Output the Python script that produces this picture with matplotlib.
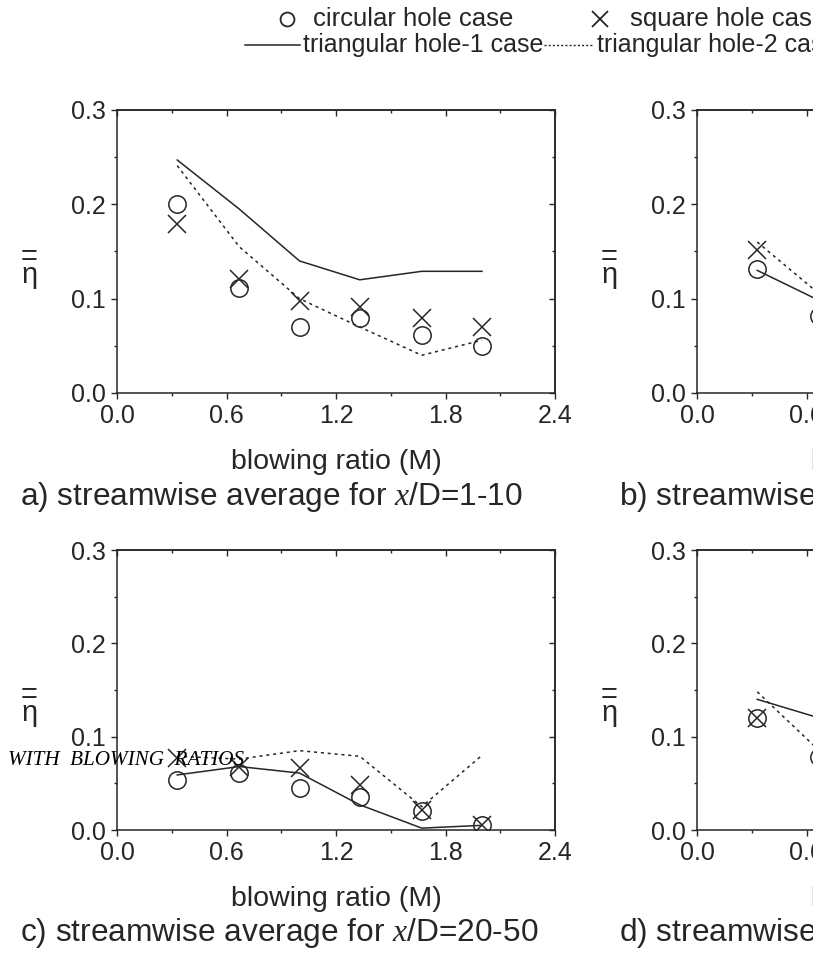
import numpy as np
import matplotlib
matplotlib.use('Agg')
import matplotlib.pyplot as plt
from matplotlib.lines import Line2D
from matplotlib.ticker import MultipleLocator, FormatStrFormatter, NullFormatter

plt.rcParams['font.family'] = ['Liberation Sans', 'DejaVu Sans']
plt.rcParams['mathtext.fontset'] = 'custom'
plt.rcParams['mathtext.rm'] = 'Liberation Sans'
plt.rcParams['mathtext.it'] = 'Liberation Serif:italic'

W, H = 813, 955
ink = '#262626'

# blowing ratios M
blowing = [0.33, 0.67, 1.0, 1.33, 1.67, 2.0]

# a) streamwise average for x/D=1-10
a_circular = [0.200, 0.111, 0.070, 0.080, 0.062, 0.050]
a_square = [0.179, 0.121, 0.098, 0.091, 0.080, 0.070]
a_tri1 = [0.247, 0.195, 0.140, 0.120, 0.129, 0.129]
a_tri2 = [0.241, 0.155, 0.100, 0.070, 0.040, 0.056]

# b) (only the left part is visible)
b_circular = [0.131, 0.082]
b_square = [0.152, np.nan]
b_tri1 = [0.130, 0.098]
b_tri2 = [0.160, 0.105]

# c) streamwise average for x/D=20-50
c_circular = [0.054, 0.061, 0.045, 0.035, 0.020, 0.005]
c_square = [0.077, 0.068, 0.066, 0.048, 0.021, 0.005]
c_tri1 = [0.059, 0.068, 0.061, 0.027, 0.002, 0.005]
c_tri2 = [0.079, 0.076, 0.085, 0.079, 0.025, 0.080]

# d) (only the left part is visible)
d_circular = [0.120, 0.078]
d_square = [0.120, np.nan]
d_tri1 = [0.140, 0.120]
d_tri2 = [0.148, 0.085]

captions = ['a) streamwise average for $\\mathit{x}$/D=1-10',
            'b) streamwise average for $\\mathit{x}$/D=10-20',
            'c) streamwise average for $\\mathit{x}$/D=20-50',
            'd) streamwise average for $\\mathit{x}$/D=50-100']

fig = plt.figure(figsize=(W / 100, H / 100), dpi=100)


def make_axes(left, top, width, height):
    ax = fig.add_axes([left / W, 1 - (top + height) / H, width / W, height / H])
    ax.set_xlim(0, 2.4)
    ax.set_ylim(0, 0.3)
    ax.xaxis.set_major_locator(MultipleLocator(0.6))
    ax.xaxis.set_minor_locator(MultipleLocator(0.3))
    ax.yaxis.set_major_locator(MultipleLocator(0.1))
    ax.yaxis.set_minor_locator(MultipleLocator(0.05))
    ax.xaxis.set_major_formatter(FormatStrFormatter('%.1f'))
    ax.yaxis.set_major_formatter(FormatStrFormatter('%.1f'))
    ax.tick_params(which='both', direction='out', top=False, right=False,
                   color=ink, labelcolor=ink, width=1, labelsize=18)
    ax.tick_params(which='major', length=4, pad=4)
    ax.tick_params(which='minor', length=2.5)
    for s in ax.spines.values():
        s.set_color(ink)
        s.set_linewidth(1.1)
    # mirrored ticks pointing inwards
    top_ax = ax.secondary_xaxis('top')
    top_ax.xaxis.set_major_locator(MultipleLocator(0.6))
    top_ax.xaxis.set_minor_locator(MultipleLocator(0.3))
    top_ax.xaxis.set_major_formatter(NullFormatter())
    top_ax.tick_params(which='both', direction='in', color=ink, width=1)
    top_ax.tick_params(which='major', length=4)
    top_ax.tick_params(which='minor', length=2.5)
    right_ax = ax.secondary_yaxis('right')
    right_ax.yaxis.set_major_locator(MultipleLocator(0.1))
    right_ax.yaxis.set_minor_locator(MultipleLocator(0.05))
    right_ax.yaxis.set_major_formatter(NullFormatter())
    right_ax.tick_params(which='both', direction='in', color=ink, width=1)
    right_ax.tick_params(which='major', length=4)
    right_ax.tick_params(which='minor', length=2.5)
    for s in list(top_ax.spines.values()) + list(right_ax.spines.values()):
        s.set_color(ink)
        s.set_linewidth(1.1)

    ax.set_xlabel('blowing ratio (M)', fontsize=20.5, color=ink)
    ax.xaxis.label.set_va('baseline')
    ax.xaxis.set_label_coords(0.5, -(76 / height))
    ax.set_ylabel('=\nη', rotation=0, fontsize=21, color=ink, linespacing=0.55)
    ax.yaxis.label.set_va('center')
    ax.yaxis.label.set_ha('center')
    ax.yaxis.set_label_coords(-0.20, 0.45)
    return ax


def draw(ax, x, circ, sq, tri1, tri2):
    ax.plot(x, tri1, '-', color=ink, lw=1.1)
    ax.plot(x, tri2, color=ink, lw=1.1, linestyle=(0, (2, 2.5)))
    ax.plot(x, circ, 'o', ms=12.5, mfc='none', mec=ink, mew=1.1)
    ax.plot(x, sq, 'x', ms=13, color=ink, mew=1.1)


ax_a = make_axes(117, 110, 438, 283)
ax_b = make_axes(697, 110, 438, 283)
ax_c = make_axes(117, 550, 438, 280)
ax_d = make_axes(697, 550, 438, 280)

draw(ax_a, blowing, a_circular, a_square, a_tri1, a_tri2)
draw(ax_b, blowing[:2], b_circular, b_square, b_tri1, b_tri2)
draw(ax_c, blowing, c_circular, c_square, c_tri1, c_tri2)
draw(ax_d, blowing[:2], d_circular, d_square, d_tri1, d_tri2)

# captions
for (px, py), cap in zip([(20, 505), (619, 505), (20, 941), (619, 941)], captions):
    fig.text(px / W, 1 - py / H, cap, fontsize=22.8, color=ink, va='baseline', ha='left')

# legend (drawn by hand, it is laid out irregularly)
leg_y1, leg_y2 = 19, 45
fig.add_artist(Line2D([287 / W], [1 - leg_y1 / H], marker='o', ms=10, mfc='none',
                      mec=ink, mew=1.3, transform=fig.transFigure))
fig.text(313 / W, 1 - leg_y1 / H, 'circular hole case', fontsize=18.5, color=ink, va='center')
fig.add_artist(Line2D([600 / W], [1 - leg_y1 / H], marker='x', ms=12, color=ink,
                      mew=1.3, transform=fig.transFigure))
fig.text(630 / W, 1 - leg_y1 / H, 'square hole case', fontsize=18.5, color=ink, va='center')
fig.add_artist(Line2D([245 / W, 300 / W], [1 - leg_y2 / H] * 2, color=ink, lw=1.1,
                      transform=fig.transFigure))
fig.text(303 / W, 1 - leg_y2 / H, 'triangular hole-1 case', fontsize=18, color=ink, va='center')
fig.add_artist(Line2D([544 / W, 594 / W], [1 - leg_y2 / H] * 2, color=ink, lw=1.0,
                      linestyle=(0, (1.5, 1.5)), transform=fig.transFigure))
fig.text(597 / W, 1 - leg_y2 / H, 'triangular hole-2 case', fontsize=18, color=ink, va='center')

# stray text from the page
fig.text(8 / W, 1 - 765 / H, 'WITH  BLOWING  RATIOS', fontsize=15.2, style='italic',
         family='Liberation Serif', color='black', va='baseline')

fig.savefig('out.png', dpi=100)
